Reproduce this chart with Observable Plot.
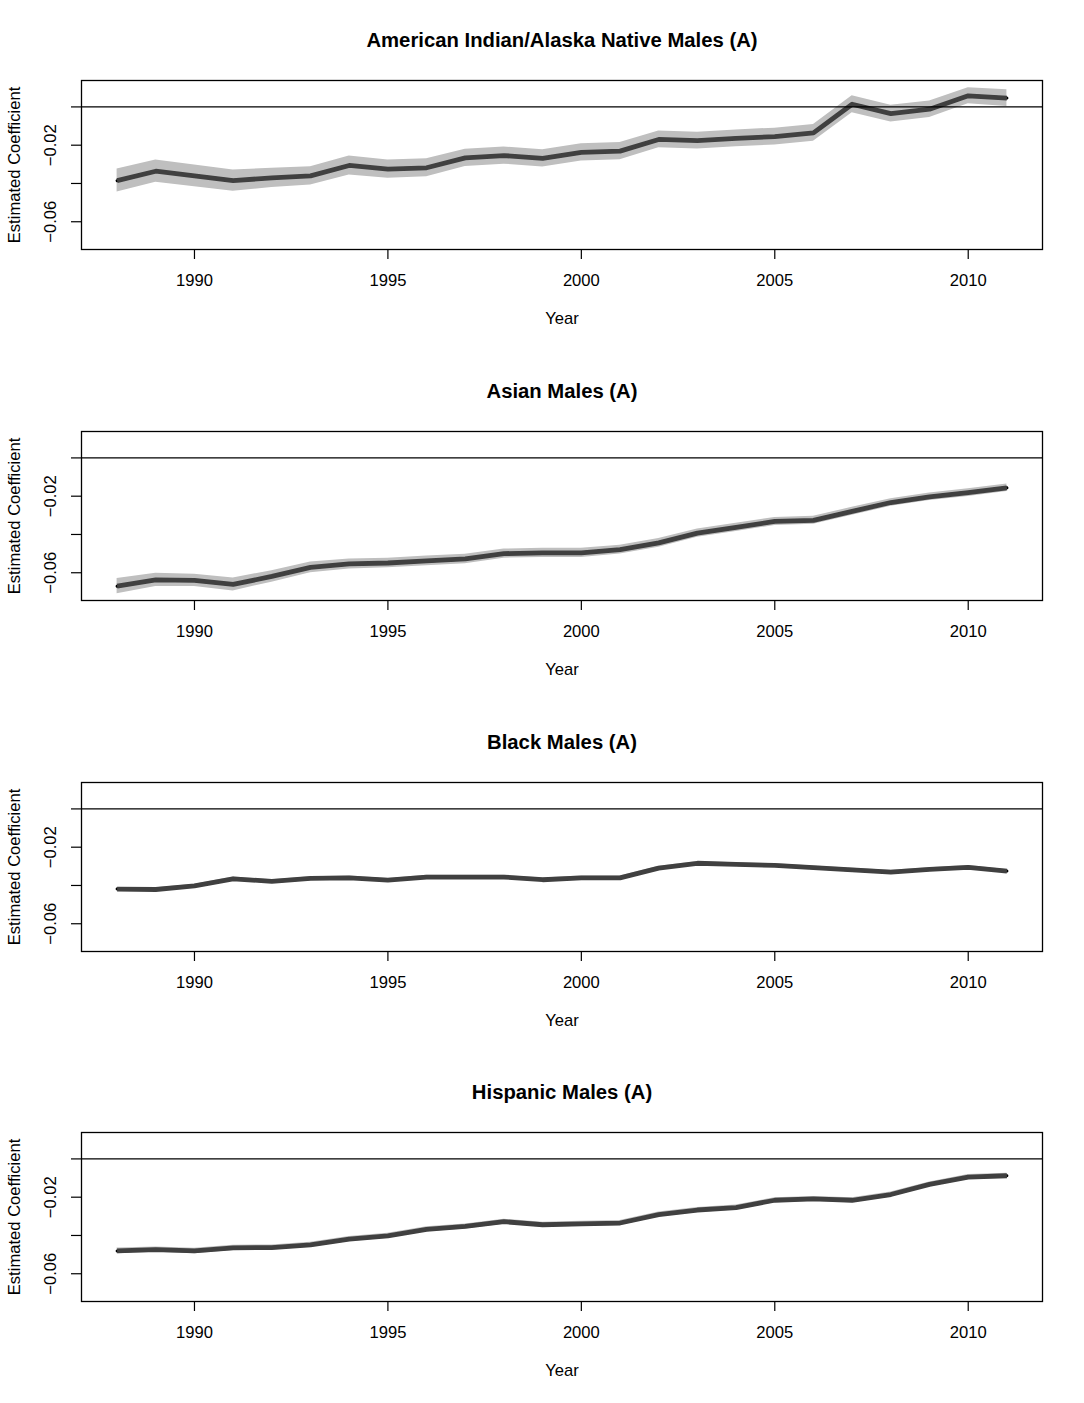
<!DOCTYPE html>
<html><head><meta charset="utf-8">
<script src="https://cdn.jsdelivr.net/npm/d3@7"></script>
<script src="https://cdn.jsdelivr.net/npm/@observablehq/plot@0.6"></script>
<style>
body{margin:0;background:#fff;}
#wrap{position:relative;width:1084px;height:1403px;overflow:hidden;}
.panel{position:absolute;left:0;width:1084px;}
</style></head><body><div id="wrap"></div>
<script>
const years = [1988,1989,1990,1991,1992,1993,1994,1995,1996,1997,1998,1999,2000,2001,2002,2003,2004,2005,2006,2007,2008,2009,2010,2011];
const titles = ["American Indian/Alaska Native Males (A)", "Asian Males (A)", "Black Males (A)", "Hispanic Males (A)"];
const xTicks = [1990, 1995, 2000, 2005, 2010];
const yTicks = [-0.06, -0.04, -0.02, 0];
const yTickLabels = {"-0.06": "\u22120.06", "-0.02": "\u22120.02"};
const xLabel = "Year";
const yLabel = "Estimated Coefficient";

const aianEst = [-0.0385,-0.0336,-0.0360,-0.0385,-0.0371,-0.0360,-0.0306,-0.0325,-0.0318,-0.0266,-0.0254,-0.0269,-0.0238,-0.0231,-0.0170,-0.0176,-0.0164,-0.0155,-0.0136,0.0014,-0.0035,-0.0012,0.0058,0.0046];
const aianHalf = [0.0060,0.0058,0.0057,0.0056,0.0050,0.0048,0.0050,0.0048,0.0047,0.0045,0.0045,0.0045,0.0045,0.0045,0.0044,0.0044,0.0044,0.0044,0.0044,0.0044,0.0044,0.0043,0.0042,0.0044];

const asianEst = [-0.0670,-0.0637,-0.0640,-0.0661,-0.0619,-0.0572,-0.0554,-0.0549,-0.0538,-0.0528,-0.0500,-0.0496,-0.0496,-0.0479,-0.0444,-0.0393,-0.0363,-0.0332,-0.0326,-0.0279,-0.0233,-0.0203,-0.0181,-0.0156];
const asianHalf = [0.0040,0.0035,0.0032,0.0034,0.0030,0.0028,0.0026,0.0025,0.0025,0.0025,0.0024,0.0024,0.0024,0.0023,0.0023,0.0022,0.0022,0.0021,0.0021,0.0021,0.0020,0.0020,0.0020,0.0020];

const blackEst = [-0.0419,-0.0421,-0.0402,-0.0365,-0.0379,-0.0363,-0.0360,-0.0372,-0.0356,-0.0356,-0.0356,-0.0370,-0.0360,-0.0360,-0.0309,-0.0284,-0.0290,-0.0295,-0.0307,-0.0319,-0.0330,-0.0316,-0.0305,-0.0325];
const blackHalf = [0.0009,0.0009,0.0009,0.0009,0.0009,0.0009,0.0009,0.0009,0.0009,0.0009,0.0009,0.0009,0.0009,0.0009,0.0009,0.0009,0.0009,0.0009,0.0009,0.0009,0.0009,0.0009,0.0009,0.0009];

const hispEst = [-0.0481,-0.0474,-0.0481,-0.0465,-0.0463,-0.0449,-0.0419,-0.0402,-0.0368,-0.0353,-0.0328,-0.0344,-0.0339,-0.0335,-0.0291,-0.0267,-0.0254,-0.0216,-0.0209,-0.0216,-0.0186,-0.0133,-0.0095,-0.0088];
const hispHalf = [0.0015,0.0014,0.0014,0.0014,0.0013,0.0013,0.0013,0.0013,0.0013,0.0013,0.0013,0.0013,0.0013,0.0013,0.0013,0.0013,0.0013,0.0013,0.0013,0.0013,0.0013,0.0013,0.0013,0.0013];

const series = [[aianEst, aianHalf], [asianEst, asianHalf], [blackEst, blackHalf], [hispEst, hispHalf]];

const FONT = "'Liberation Sans', Arial, Helvetica, sans-serif";
const PANEL_H = 1403 / 4;
const wrap = document.getElementById("wrap");

series.forEach(([est, half], i) => {
  const data = years.map((year, j) => ({year, est: est[j], lo: est[j] - half[j], hi: est[j] + half[j]}));
  const chart = Plot.plot({
    width: 1084,
    height: 351,
    marginTop: 80,
    marginBottom: 102,
    marginLeft: 81,
    marginRight: 42,
    style: {fontFamily: FONT, fontSize: "16.6px", color: "black", background: "white"},
    x: {domain: [1987.08, 2011.92]},
    y: {domain: [-0.0745, 0.0138]},
    marks: [
      Plot.areaY(data, {x: "year", y1: "lo", y2: "hi", fill: "#bfbfbf"}),
      Plot.line(data, {x: "year", y: "est", stroke: "black", strokeWidth: 3, strokeLinecap: "round"}),
      Plot.line(data, {x: "year", y: "est", stroke: "#404040", strokeWidth: 4.8, strokeLinecap: "butt", strokeLinejoin: "round"}),
      Plot.ruleY([0], {stroke: "black", strokeWidth: 1.2}),
      Plot.frame({stroke: "black", strokeWidth: 1.3}),
      Plot.axisX({ticks: xTicks, tickSize: 10, tickPadding: 15, tickFormat: d => String(d), fontSize: 16.6, label: null, strokeWidth: 1.2}),
      Plot.axisY({ticks: yTicks, tickSize: 10, tickPadding: 21, tickRotate: -90, textAnchor: "middle", lineAnchor: "middle",
        tickFormat: d => yTickLabels[String(d)] || "", fontSize: 16.6, label: null, strokeWidth: 1.2}),
      Plot.text([titles[i]], {text: d => d, frameAnchor: "top", dy: -39.6, lineAnchor: "middle", fontSize: 20.3, fontWeight: "bold"}),
      Plot.text([xLabel], {text: d => d, frameAnchor: "bottom", dy: 69, lineAnchor: "middle", fontSize: 16.6}),
      Plot.text([yLabel], {text: d => d, frameAnchor: "left", dx: -67.3, rotate: -90, textAnchor: "middle", lineAnchor: "middle", fontSize: 16.6})
    ]
  });
  const div = document.createElement("div");
  div.className = "panel";
  div.style.top = (i * PANEL_H) + "px";
  div.appendChild(chart);
  wrap.appendChild(div);
});
</script>
</body></html>
